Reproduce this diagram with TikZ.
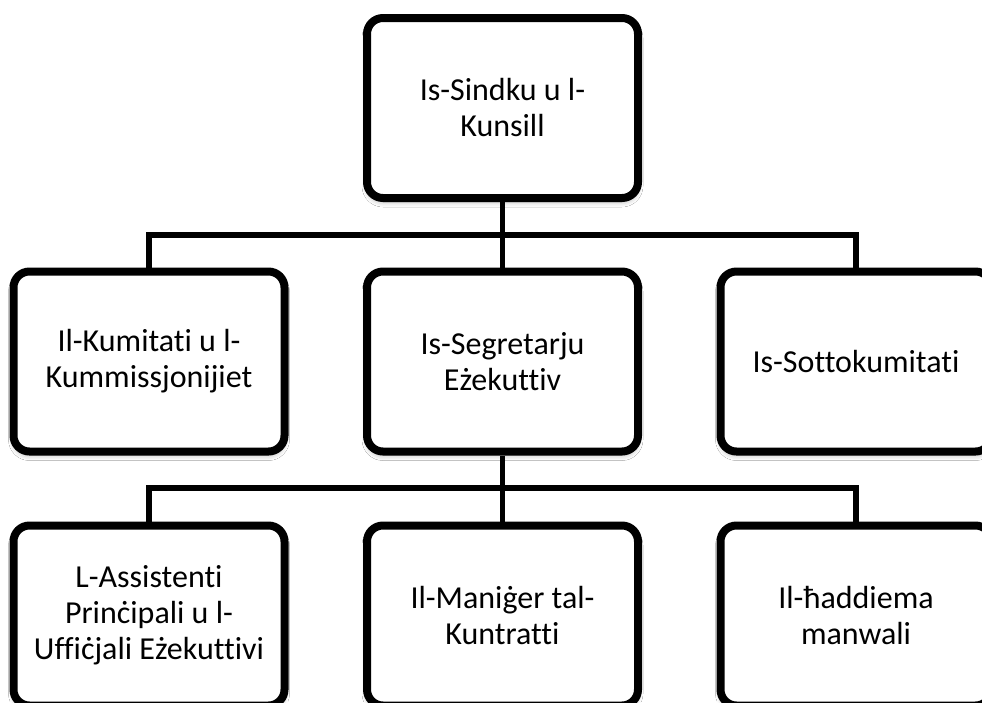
\documentclass[tikz,border=0pt]{standalone}
\usepackage{fontspec}
\setmainfont[Ligatures=CommonOff]{Carlito}
\usetikzlibrary{shadows.blur}
\tikzset{
  orgbox/.style={draw=black, fill=white, line width=8pt, rounded corners=16pt,
    minimum width=271pt, minimum height=180pt, inner sep=0pt, align=center,
    font=\fontsize{32}{36}\selectfont,
    blur shadow={shadow xshift=0pt, shadow yshift=-4pt, shadow blur radius=5pt, shadow opacity=30}},
  conn/.style={draw=black, line width=5.5pt}
}
\begin{document}
\begin{tikzpicture}[x=1pt,y=-1pt]
\useasboundingbox (0,0) rectangle (982,702);
\clip (0,0) rectangle (982,702);
\fill[white] (0,0) rectangle (982,702);
% level 1
\node[orgbox] (top) at (502.5,108) {Is-Sindku u l-\\Kunsill};
% level 2
\node[orgbox] (l2a) at (149,361.5) {Il-Kumitati u l-\\Kummissjonijiet};
\node[orgbox] (l2b) at (502.5,361.5) {Is-Segretarju\\Eżekuttiv};
\node[orgbox] (l2c) at (856,361.5) {Is-Sottokumitati};
% level 3
\node[orgbox] (l3a) at (149,615.5) {L-Assistenti\\Prinċipali u l-\\Uffiċjali Eżekuttivi};
\node[orgbox] (l3b) at (502.5,615.5) {Il-Maniġer tal-\\Kuntratti};
\node[orgbox] (l3c) at (856,615.5) {Il-ħaddiema\\manwali};
% connectors
\coordinate (j1) at (502.5,235);
\coordinate (j2) at (502.5,488);
\draw[conn] (top.south) -- (j1);
\draw[conn] (l2a.north) |- (j1) -| (l2c.north);
\draw[conn] (j1) -- (l2b.north);
\draw[conn] (l2b.south) -- (j2);
\draw[conn] (l3a.north) |- (j2) -| (l3c.north);
\draw[conn] (j2) -- (l3b.north);
\end{tikzpicture}
\end{document}
